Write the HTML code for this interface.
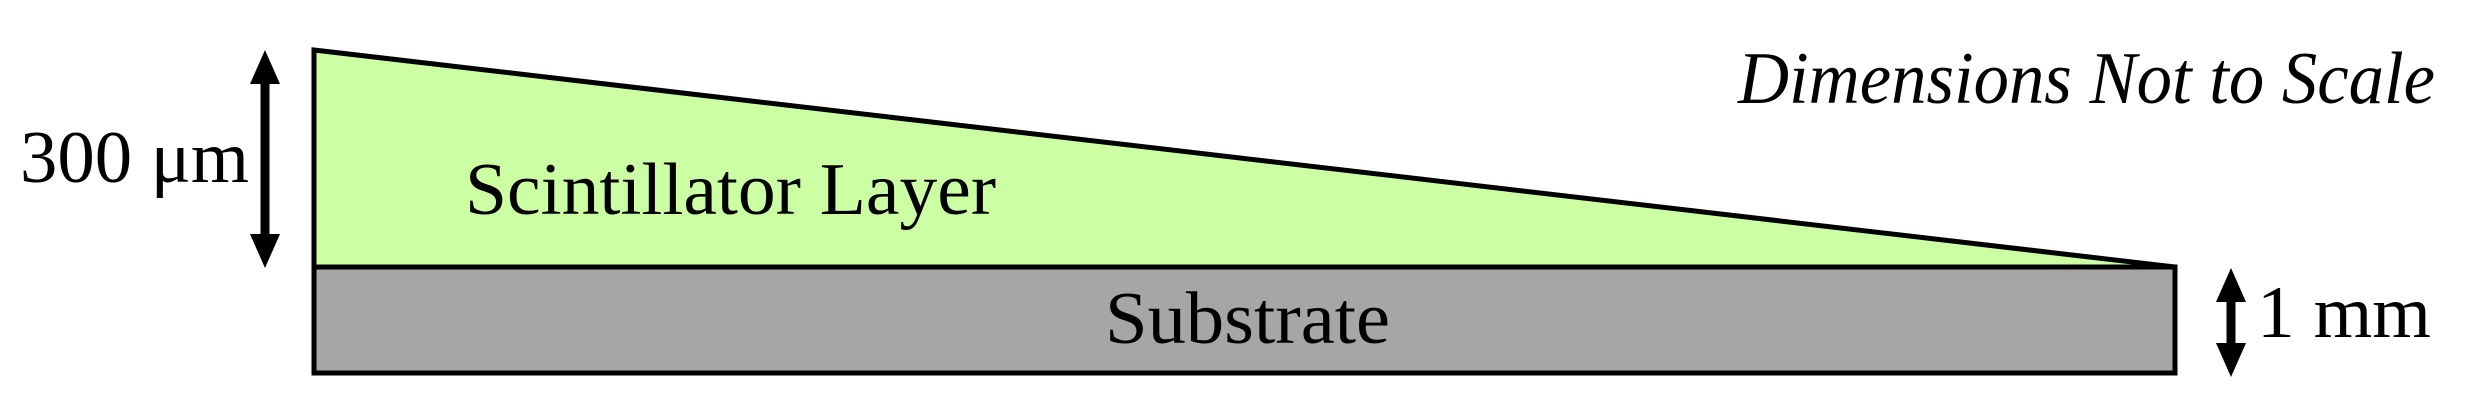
<!DOCTYPE html>
<html><head><meta charset="utf-8"><style>html,body{margin:0;padding:0;background:#fff;}svg{display:block}</style></head>
<body>
<svg width="2471" height="415" viewBox="0 0 2471 415" xmlns="http://www.w3.org/2000/svg">
<polygon points="314,50 2175,267 314,267" fill="#ccffa3" stroke="#000" stroke-width="5" stroke-linejoin="miter"/>
<rect x="314" y="267" width="1861" height="106" fill="#a6a6a6" stroke="#000" stroke-width="5"/>
<line x1="265" y1="78" x2="265" y2="240" stroke="#000" stroke-width="9"/>
<polygon points="265,50 250,84 280,84" fill="#000"/>
<polygon points="265,268 250,234 280,234" fill="#000"/>
<line x1="2231" y1="294" x2="2231" y2="350" stroke="#000" stroke-width="9"/>
<polygon points="2231,268 2216,302 2246,302" fill="#000"/>
<polygon points="2231,377 2216,343 2246,343" fill="#000"/>
<g font-family="Liberation Serif, serif" fill="#000">
<text x="20" y="182" font-size="74" textLength="229" lengthAdjust="spacingAndGlyphs">300 μm</text>
<text x="465" y="214" font-size="74" textLength="531" lengthAdjust="spacingAndGlyphs">Scintillator Layer</text>
<text x="1105" y="343" font-size="74" textLength="285" lengthAdjust="spacingAndGlyphs">Substrate</text>
<text x="2257" y="337" font-size="74" textLength="174" lengthAdjust="spacingAndGlyphs">1 mm</text>
<text x="1738" y="103" font-size="74" font-style="italic" textLength="697" lengthAdjust="spacingAndGlyphs">Dimensions Not to Scale</text>
</g>
</svg>
</body></html>
